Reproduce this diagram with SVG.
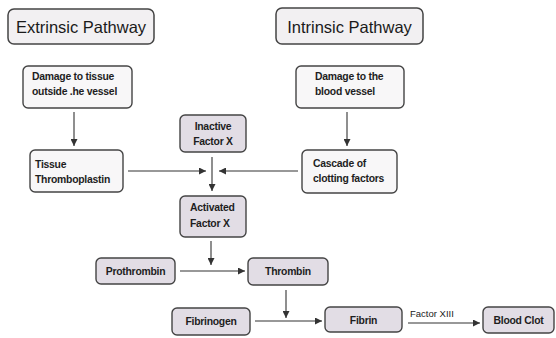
<svg xmlns="http://www.w3.org/2000/svg" width="556" height="338" viewBox="0 0 556 338">
<defs>
<marker id="ah" viewBox="0 0 10 10" refX="10" refY="5" markerWidth="7" markerHeight="7" markerUnits="userSpaceOnUse" orient="auto">
<path d="M0,0 L10,5 L0,10 Z" fill="#333"/>
</marker>
</defs>
<style>
.hdr{fill:#f2f0f2;stroke:#444;stroke-width:1.5}
.lt{fill:#f8f7f8;stroke:#444;stroke-width:1.4}
.sh{fill:#e2dde5;stroke:#444;stroke-width:1.4}
.ht{font-family:"Liberation Sans",Arial,sans-serif;font-size:16.5px;fill:#1a1a1a;text-anchor:middle}
.t{font-family:"Liberation Sans",Arial,sans-serif;font-size:10.4px;font-weight:bold;fill:#1e1e1e;letter-spacing:-0.25px}
.c{text-anchor:middle}
.lbl{font-family:"Liberation Sans",Arial,sans-serif;font-size:9.5px;fill:#222}
.e{stroke:#333;stroke-width:1.1;fill:none;marker-end:url(#ah)}
</style>
<rect width="556" height="338" fill="#ffffff"/>
<g id="extrinsic"><rect class="hdr" x="8" y="9" width="146" height="35" rx="6"/><text class="ht" x="81" y="32.5">Extrinsic Pathway</text></g>
<g id="intrinsic"><rect class="hdr" x="276" y="8" width="147" height="36" rx="6"/><text class="ht" x="349.5" y="32.5">Intrinsic Pathway</text></g>
<g id="damage-tissue"><rect class="lt" x="23" y="66" width="109" height="42" rx="5"/><text class="t" x="32" y="80">Damage to tissue</text><text class="t" x="32" y="95">outside .he vessel</text></g>
<g id="damage-vessel"><rect class="lt" x="296" y="66" width="108" height="42" rx="5"/><text class="t" x="315" y="80">Damage to the</text><text class="t" x="315" y="95">blood vessel</text></g>
<g id="inactive-x"><rect class="sh" x="180" y="115" width="66" height="37" rx="5"/><text class="t c" x="213" y="130">Inactive</text><text class="t c" x="213" y="145">Factor X</text></g>
<g id="tissue-thromboplastin"><rect class="lt" x="30" y="150" width="93" height="42" rx="5"/><text class="t" x="35" y="168">Tissue</text><text class="t" x="35" y="183">Thromboplastin</text></g>
<g id="cascade"><rect class="lt" x="302" y="150" width="95" height="43" rx="5"/><text class="t" x="313" y="167">Cascade of</text><text class="t" x="313" y="182">clotting factors</text></g>
<g id="activated-x"><rect class="sh" x="180" y="196" width="66" height="41" rx="5"/><text class="t" x="190" y="211">Activated</text><text class="t" x="190" y="227">Factor X</text></g>
<g id="prothrombin"><rect class="sh" x="96" y="258" width="79" height="26" rx="5"/><text class="t c" x="135.5" y="275">Prothrombin</text></g>
<g id="thrombin"><rect class="sh" x="248" y="258" width="80" height="27" rx="5"/><text class="t c" x="288" y="275">Thrombin</text></g>
<g id="fibrinogen"><rect class="sh" x="172" y="308" width="78" height="27" rx="5"/><text class="t c" x="211" y="325">Fibrinogen</text></g>
<g id="fibrin"><rect class="sh" x="325" y="307" width="77" height="25" rx="5"/><text class="t c" x="363.5" y="323.5">Fibrin</text></g>
<g id="blood-clot"><rect class="sh" x="483" y="307" width="71" height="26" rx="5"/><text class="t c" x="518.5" y="324">Blood Clot</text></g>
<g id="connectors">
<line class="e" x1="74" y1="112" x2="74" y2="146"/>
<line class="e" x1="347" y1="112" x2="347" y2="146"/>
<line class="e" x1="128" y1="171" x2="206" y2="171"/>
<line class="e" x1="298" y1="171" x2="219" y2="171"/>
<line class="e" x1="212" y1="157" x2="212" y2="191"/>
<line class="e" x1="211" y1="241" x2="211" y2="265"/>
<line class="e" x1="180" y1="271" x2="245" y2="271"/>
<line class="e" x1="286" y1="290" x2="286" y2="318"/>
<line class="e" x1="255" y1="321" x2="322" y2="321"/>
<line class="e" x1="408" y1="323" x2="480" y2="323"/>
<text class="lbl" x="410" y="317">Factor XIII</text>
</g>
</svg>
